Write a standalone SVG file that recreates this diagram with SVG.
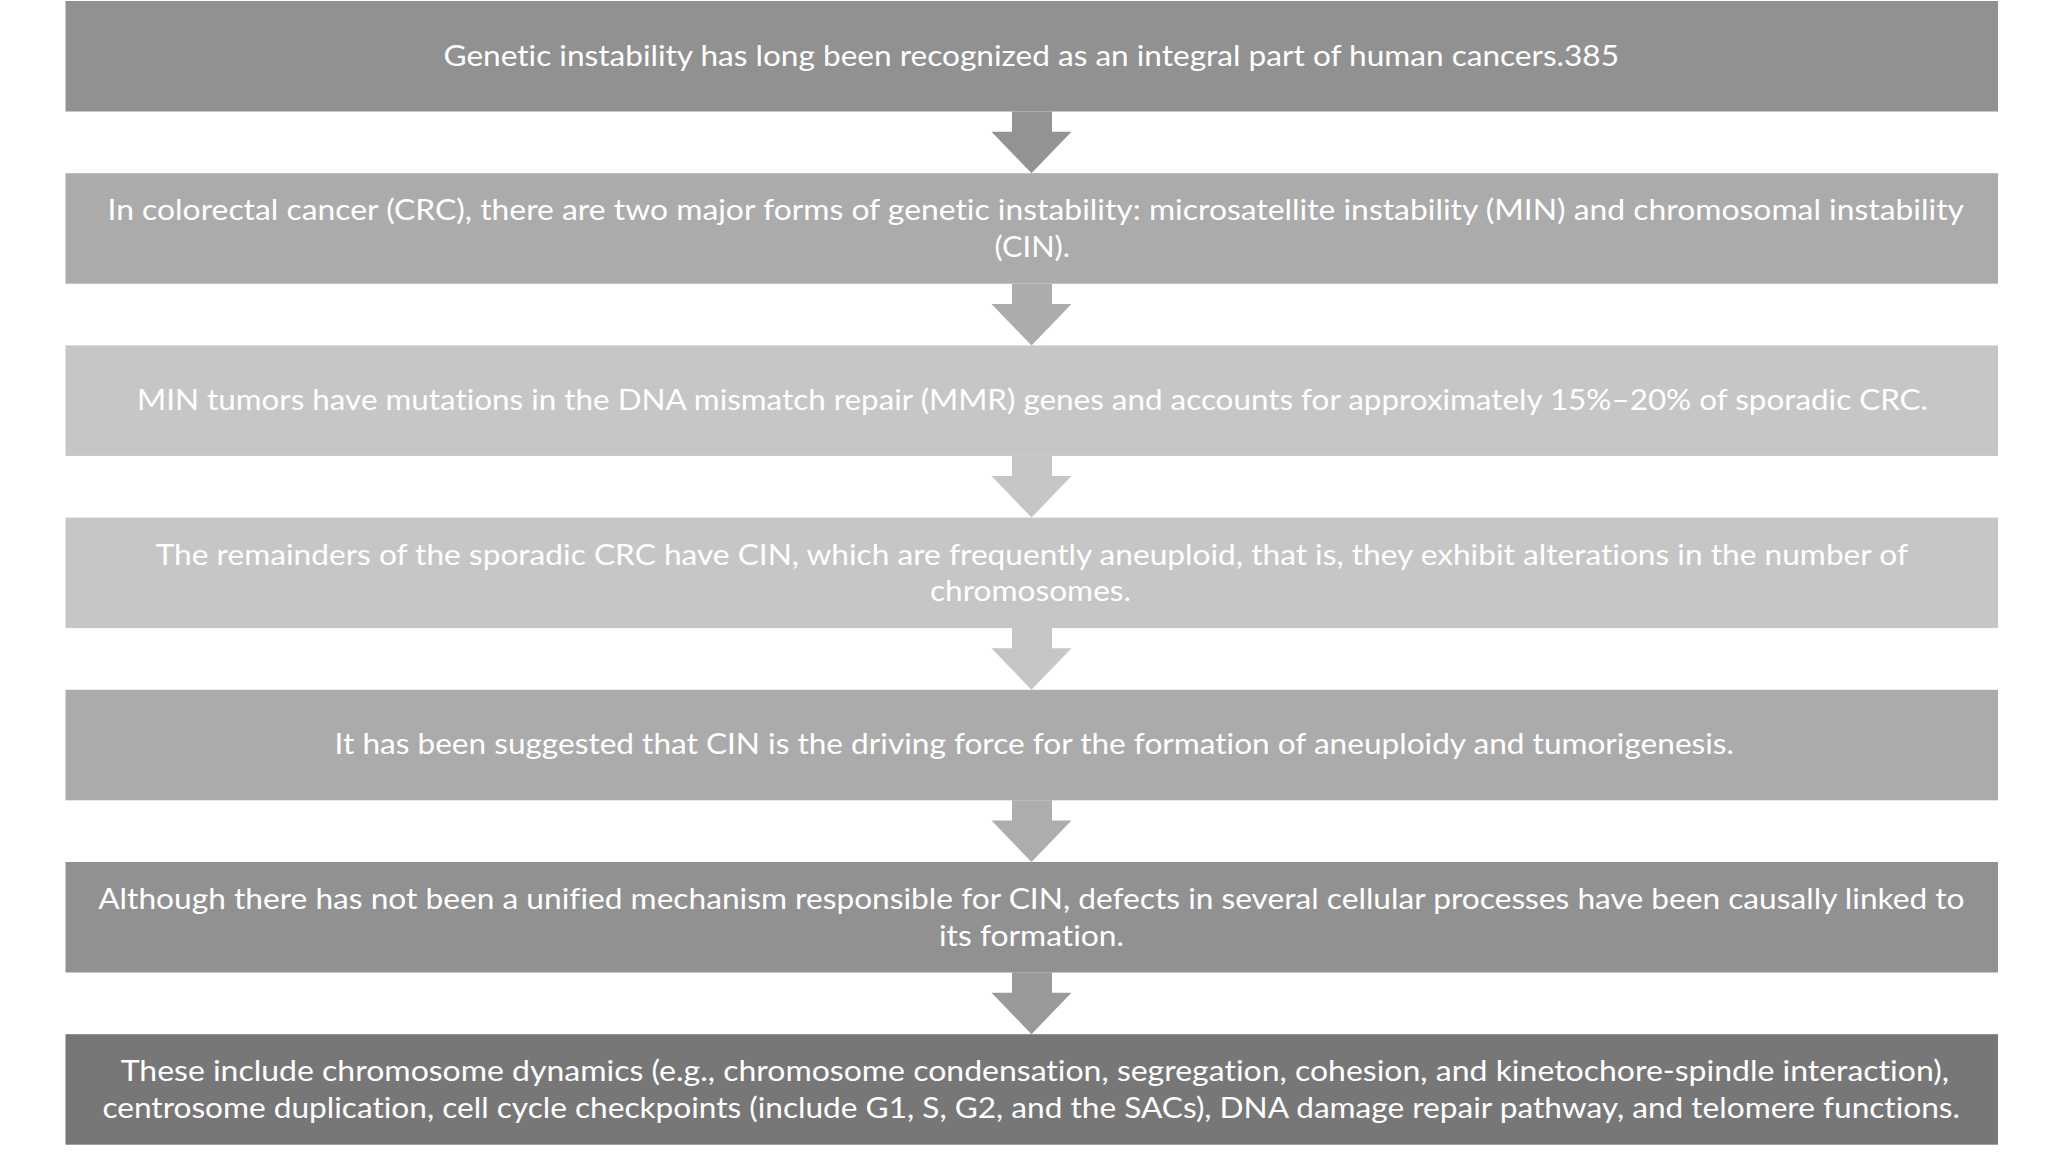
<svg xmlns="http://www.w3.org/2000/svg" width="2048" height="1152" viewBox="0 0 2048 1152">
<style>
  .box { stroke: none; }
  .t { font-family: Lato, "Open Sans", "Liberation Sans", sans-serif; font-size: 28.5px; fill: #ffffff; font-variant-ligatures: none; font-feature-settings: "liga" 0, "clig" 0; }
</style>
<rect x="0" y="0" width="2048" height="1152" fill="#ffffff"/>
<g id="connectors">
  <path id="a1" fill="#939393" d="M1012,111.5 H1052 V131.7 H1071.5 L1031.5,173.2 L991.5,131.7 H1012 Z"/>
  <path id="a2" fill="#acacac" d="M1012,283.7 H1052 V303.9 H1071.5 L1031.5,345.4 L991.5,303.9 H1012 Z"/>
  <path id="a3" fill="#c6c6c6" d="M1012,455.9 H1052 V476.1 H1071.5 L1031.5,517.6 L991.5,476.1 H1012 Z"/>
  <path id="a4" fill="#c6c6c6" d="M1012,628.1 H1052 V648.3 H1071.5 L1031.5,689.8 L991.5,648.3 H1012 Z"/>
  <path id="a5" fill="#adadad" d="M1012,800.3 H1052 V820.5 H1071.5 L1031.5,862 L991.5,820.5 H1012 Z"/>
  <path id="a6" fill="#9a9a9a" d="M1012,972.5 H1052 V992.7 H1071.5 L1031.5,1034.2 L991.5,992.7 H1012 Z"/>
</g>
<g id="n1">
  <rect class="box" x="65.5" y="1" width="1932.5" height="110.5" fill="#919191"/>
  <text class="t" x="443.5" y="65.5" textLength="1175.5" lengthAdjust="spacingAndGlyphs">Genetic instability has long been recognized as an integral part of human cancers.385</text>
</g>
<g id="n2">
  <rect class="box" x="65.5" y="173.2" width="1932.5" height="110.5" fill="#ababab"/>
  <text class="t" x="107.5" y="220.3" textLength="1856.5" lengthAdjust="spacingAndGlyphs">In colorectal cancer (CRC), there are two major forms of genetic instability: microsatellite instability (MIN) and chromosomal instability</text>
  <text class="t" x="994.5" y="256.9" textLength="75.5" lengthAdjust="spacingAndGlyphs">(CIN).</text>
</g>
<g id="n3">
  <rect class="box" x="65.5" y="345.4" width="1932.5" height="110.5" fill="#c6c6c6"/>
  <text class="t" x="137" y="409.9" textLength="1791" lengthAdjust="spacingAndGlyphs">MIN tumors have mutations in the DNA mismatch repair (MMR) genes and accounts for approximately 15%–20% of sporadic CRC.</text>
</g>
<g id="n4">
  <rect class="box" x="65.5" y="517.6" width="1932.5" height="110.5" fill="#c6c6c6"/>
  <text class="t" x="155.7" y="564.7" textLength="1752.3" lengthAdjust="spacingAndGlyphs">The remainders of the sporadic CRC have CIN, which are frequently aneuploid, that is, they exhibit alterations in the number of</text>
  <text class="t" x="930" y="601.3" textLength="201" lengthAdjust="spacingAndGlyphs">chromosomes.</text>
</g>
<g id="n5">
  <rect class="box" x="65.5" y="689.8" width="1932.5" height="110.5" fill="#ababab"/>
  <text class="t" x="334.6" y="754.3" textLength="1399.4" lengthAdjust="spacingAndGlyphs">It has been suggested that CIN is the driving force for the formation of aneuploidy and tumorigenesis.</text>
</g>
<g id="n6">
  <rect class="box" x="65.5" y="862" width="1932.5" height="110.5" fill="#919191"/>
  <text class="t" x="98.2" y="909.1" textLength="1866.4" lengthAdjust="spacingAndGlyphs">Although there has not been a unified mechanism responsible for CIN, defects in several cellular processes have been causally linked to</text>
  <text class="t" x="939" y="945.7" textLength="185" lengthAdjust="spacingAndGlyphs">its formation.</text>
</g>
<g id="n7">
  <rect class="box" x="65.5" y="1034.2" width="1932.5" height="110.5" fill="#777777"/>
  <text class="t" x="120.7" y="1081.3" textLength="1828.3" lengthAdjust="spacingAndGlyphs">These include chromosome dynamics (e.g., chromosome condensation, segregation, cohesion, and kinetochore-spindle interaction),</text>
  <text class="t" x="102.4" y="1117.9" textLength="1857.6" lengthAdjust="spacingAndGlyphs">centrosome duplication, cell cycle checkpoints (include G1, S, G2, and the SACs), DNA damage repair pathway, and telomere functions.</text>
</g>
</svg>
